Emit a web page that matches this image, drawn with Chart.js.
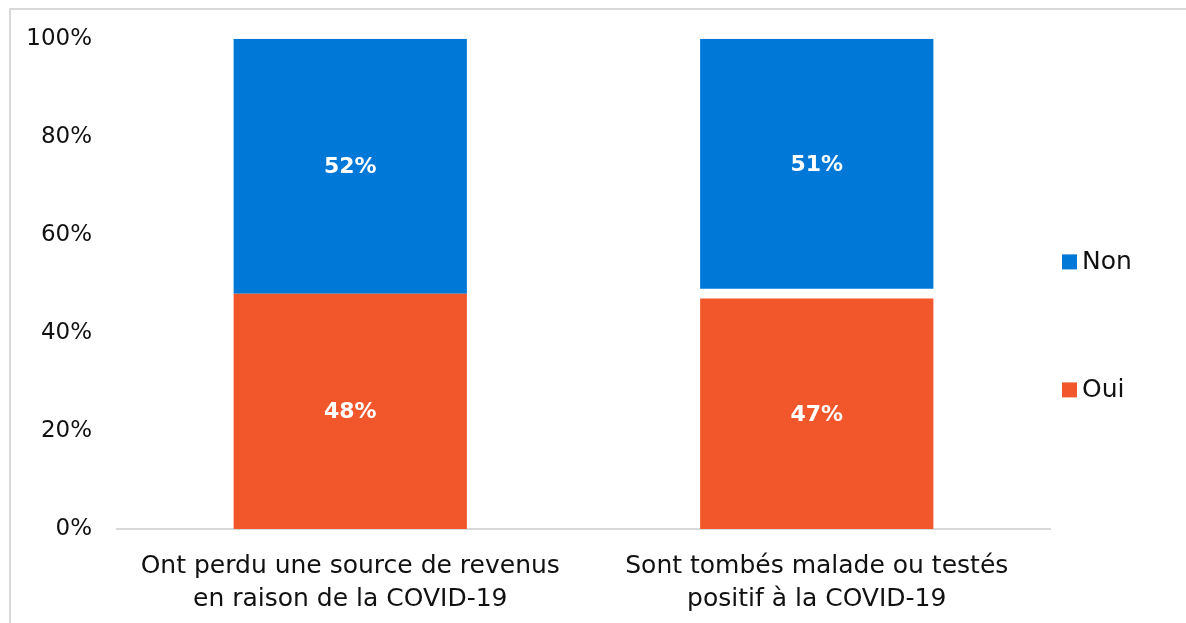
<!DOCTYPE html>
<html>
<head>
<meta charset="utf-8">
<script src="https://cdn.jsdelivr.net/npm/chart.js@4.4.1/dist/chart.umd.min.js"></script>
<style>
	html, body { margin: 0; padding: 0; background: #fff; overflow: hidden; }
	#grafik { display: block; }
</style>
</head>
<body>
<canvas id="grafik" width="1186" height="623"></canvas>
<script>
const categories = [
	['Ont perdu une source de revenus', 'en raison de la COVID-19'],
	['Sont tombés malade ou testés', 'positif à la COVID-19']
];
const oui = [48, 47];
const ecart = [0, 2]; // blank gap in second bar
const non = [52, 51];
const yTicks = [0, 20, 40, 60, 80, 100];

const fontName = '"DejaVu Sans", sans-serif';

// light frame, only left and top edges are in view
const frame = {
	id: 'frame',
	beforeDraw(chart) {
		const ctx = chart.ctx;
		ctx.save();
		ctx.strokeStyle = '#d9d9d9';
		ctx.lineWidth = 2;
		ctx.beginPath();
		ctx.moveTo(10, chart.height);
		ctx.lineTo(10, 9);
		ctx.lineTo(chart.width, 9);
		ctx.stroke();
		ctx.restore();
	}
};

// white % labels in the middle of each segment
const barLabels = {
	id: 'barLabels',
	afterDatasetsDraw(chart) {
		const ctx = chart.ctx;
		ctx.save();
		ctx.fillStyle = '#fff';
		ctx.font = 'bold 22px ' + fontName;
		ctx.textAlign = 'center';
		ctx.textBaseline = 'middle';
		chart.data.datasets.forEach((ds, i) => {
			if (ds.noLabel) return;
			chart.getDatasetMeta(i).data.forEach((bar, j) => {
				const p = bar.getProps(['x', 'y', 'base'], true);
				ctx.fillText(ds.data[j] + '%', p.x, (p.y + p.base) / 2 + 1);
			});
		});
		ctx.restore();
	}
};

// legend on the right, Non above Oui, widely spaced
const sideLegend = {
	id: 'sideLegend',
	afterDraw(chart) {
		const ctx = chart.ctx;
		const a = chart.chartArea;
		const items = chart.data.datasets.filter(d => !d.noLabel).reverse();
		const midY = (a.top + a.bottom) / 2 + 42;
		const gap = 128;
		ctx.save();
		ctx.font = '25px ' + fontName;
		ctx.textBaseline = 'middle';
		items.forEach((d, i) => {
			const y = midY + (i - (items.length - 1) / 2) * gap;
			ctx.fillStyle = d.backgroundColor;
			ctx.fillRect(a.right + 12, y - 7.5, 15, 15);
			ctx.fillStyle = '#111';
			ctx.fillText(d.label, a.right + 32, y + 1);
		});
		ctx.restore();
	}
};

const ctx = document.getElementById('grafik');
new Chart(ctx, {
	type: 'bar',
	data: {
		labels: categories,
		datasets: [
			{ label: 'Oui', data: oui, backgroundColor: '#F1572B', barPercentage: 0.5, categoryPercentage: 1 },
			{ label: '', data: ecart, backgroundColor: 'rgba(0,0,0,0)', noLabel: true, barPercentage: 0.5, categoryPercentage: 1 },
			{ label: 'Non', data: non, backgroundColor: '#0078D7', barPercentage: 0.5, categoryPercentage: 1 }
		]
	},
	options: {
		responsive: false,
		animation: false,
		layout: { padding: { left: 0, right: 136, top: 37, bottom: 0 } },
		plugins: {
			legend: { display: false },
			tooltip: { enabled: false }
		},
		scales: {
			x: {
				stacked: true,
				grid: { display: false, drawTicks: false },
				border: { display: true, color: '#d9d9d9', width: 2 },
				ticks: { color: '#111', font: { family: fontName, size: 25, lineHeight: 1.32 }, padding: 21, maxRotation: 0, autoSkip: false },
				afterFit: (s) => { s.height = 94; }
			},
			y: {
				stacked: true,
				min: 0,
				max: 100,
				afterBuildTicks: (s) => { s.ticks = yTicks.map(v => ({ value: v })); },
				grid: { display: false, drawTicks: false },
				border: { display: false },
				ticks: { color: '#111', font: { family: fontName, size: 23 }, padding: 25, callback: (v) => v + '%' },
				afterFit: (s) => { s.width = 117; }
			}
		}
	},
	plugins: [frame, barLabels, sideLegend]
});
</script>
</body>
</html>
